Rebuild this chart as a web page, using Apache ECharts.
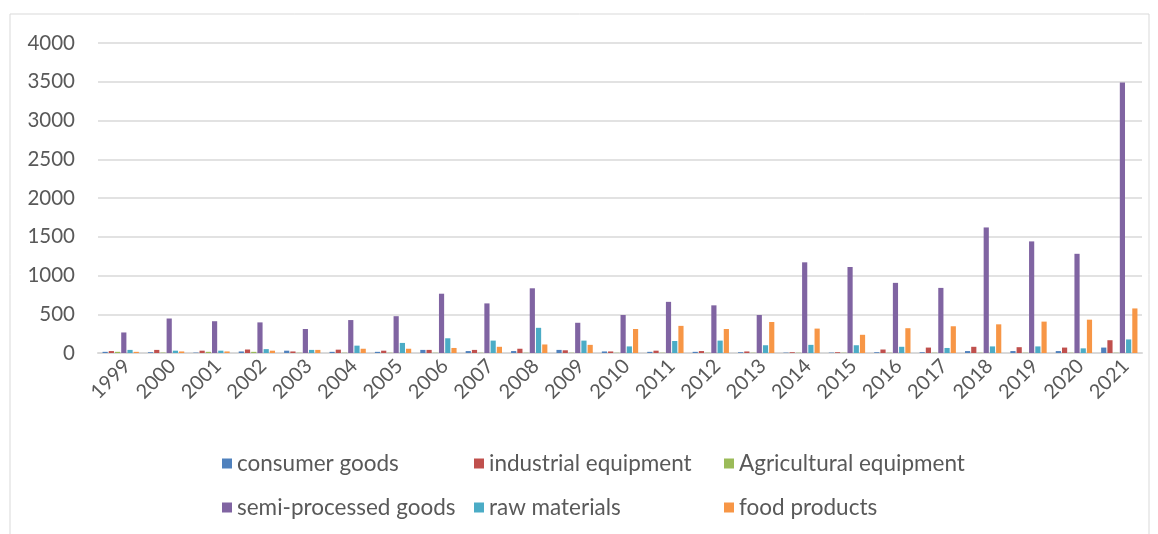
<!DOCTYPE html>
<html>
<head>
<meta charset="utf-8">
<script src="https://cdn.jsdelivr.net/npm/echarts@6/dist/echarts.min.js"></script>
<style>
  html, body { margin: 0; padding: 0; background: #ffffff; }
  #chart { width: 1158px; height: 534px; }
</style>
</head>
<body>
<div id="chart"></div>
<script>
// Yearly values by product group
const years = ['1999','2000','2001','2002','2003','2004','2005','2006','2007','2008','2009','2010',
               '2011','2012','2013','2014','2015','2016','2017','2018','2019','2020','2021'];
const consumerGoods = [15,10,5,20,30,15,15,40,25,25,40,20,15,15,10,5,5,10,10,25,25,25,70];
const industrialEquipment = [25,40,30,45,20,43,30,40,40,55,35,20,30,25,20,10,10,45,70,80,75,70,165];
const agriculturalEquipment = [15,5,15,15,3,3,3,3,3,3,3,3,3,3,3,3,3,3,3,3,3,3,3];
const semiProcessedGoods = [265,445,410,395,310,425,475,765,640,835,390,490,660,615,490,1170,1110,905,840,1620,1440,1280,3490];
const rawMaterials = [40,30,30,50,40,95,130,190,160,325,160,85,155,160,100,105,100,80,65,85,85,60,175];
const foodProducts = [15,20,20,30,40,55,55,65,80,110,105,310,350,310,400,315,235,320,345,370,405,430,575];
const yTicks = { min: 0, max: 4000, interval: 500 };

const seriesDefs = [
  { name: 'consumer goods', data: consumerGoods, color: '#4f81bd' },
  { name: 'industrial equipment', data: industrialEquipment, color: '#c0504d' },
  { name: 'Agricultural equipment', data: agriculturalEquipment, color: '#9bbb59' },
  { name: 'semi-processed goods', data: semiProcessedGoods, color: '#8064a2' },
  { name: 'raw materials', data: rawMaterials, color: '#4bacc6' },
  { name: 'food products', data: foodProducts, color: '#f79646' }
];

const FONT = 'Lato';
const TEXT = '#595959';
const GRIDLINE = '#d9d9d9';

// legend laid out as a 3 x 2 grid
const legendPos = [[222, 452], [474, 452], [724, 452], [222, 496], [474, 496], [724, 496]];
const legends = seriesDefs.map((s, i) => ({
  data: [s.name],
  left: legendPos[i][0],
  top: legendPos[i][1],
  padding: 0,
  icon: 'rect',
  itemWidth: 10,
  itemHeight: 10,
  selectedMode: false,
  textStyle: { fontFamily: FONT, fontSize: 22.5, color: TEXT }
}));

const chart = echarts.init(document.getElementById('chart'), null, { renderer: 'canvas' });
chart.setOption({
  animation: false,
  backgroundColor: '#ffffff',
  graphic: [{
    type: 'rect',
    shape: { x: 10, y: 14, width: 1139, height: 540 },
    style: { fill: 'none', stroke: GRIDLINE, lineWidth: 1 },
    silent: true
  }],
  grid: { left: 98, right: 16, top: 43, bottom: 181, containLabel: false },
  legend: legends,
  xAxis: {
    type: 'category',
    data: years,
    axisLine: { lineStyle: { color: GRIDLINE, width: 2 } },
    axisTick: { show: false },
    // slanted year labels, nudged along their baseline so each ends just right of its group
    axisLabel: { rotate: 45, margin: 16, padding: [0, -9, 0, 0], fontFamily: FONT, fontSize: 20, color: TEXT, interval: 0 }
  },
  yAxis: {
    type: 'value',
    min: yTicks.min,
    max: yTicks.max,
    interval: yTicks.interval,
    axisLine: { show: false },
    axisTick: { show: false },
    splitLine: { lineStyle: { color: GRIDLINE, width: 1.5 } },
    axisLabel: { margin: 23, fontFamily: FONT, fontSize: 20.5, color: TEXT, formatter: v => String(v) }
  },
  series: seriesDefs.map(s => ({
    name: s.name,
    type: 'bar',
    data: s.data,
    barGap: '20%',
    barCategoryGap: '20%',
    itemStyle: { color: s.color }
  }))
});
</script>
</body>
</html>
